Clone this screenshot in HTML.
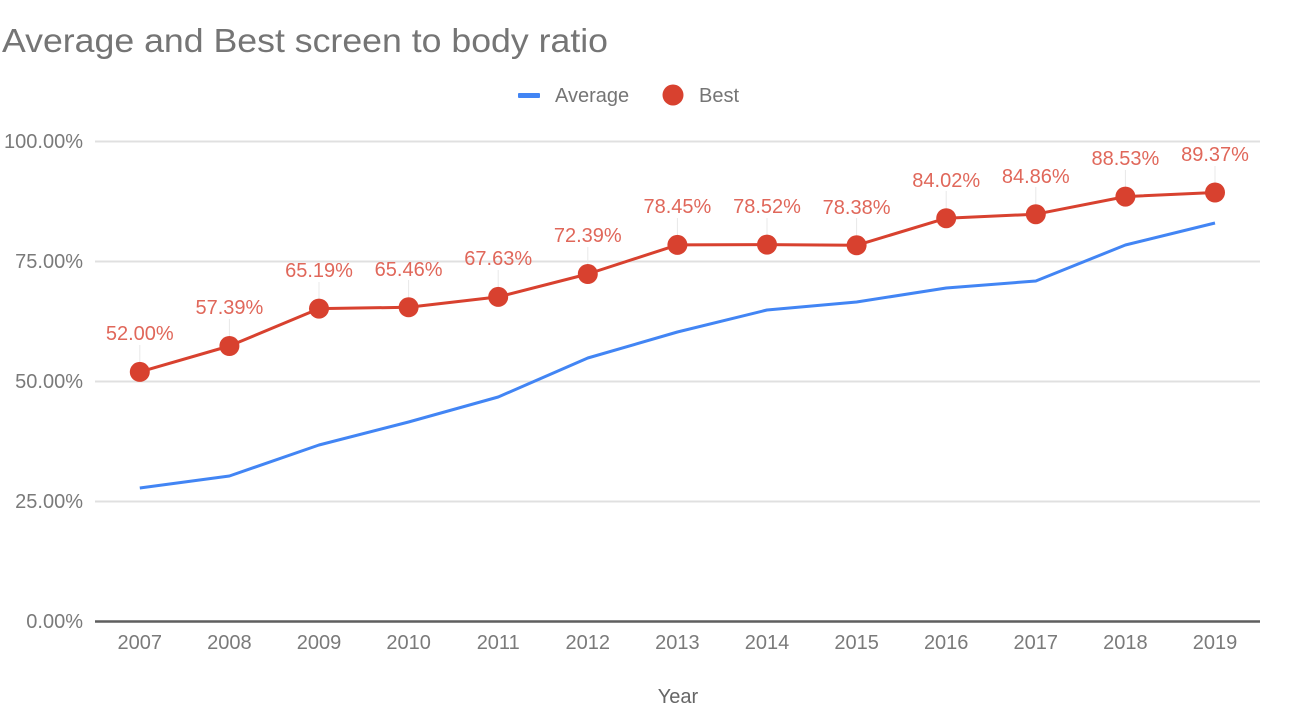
<!DOCTYPE html>
<html><head><meta charset="utf-8"><style>
html,body{margin:0;padding:0;background:#fff;}
svg{display:block;}
text{font-family:"Liberation Sans",Arial,sans-serif;}
</style></head><body>
<svg width="1290" height="728" viewBox="0 0 1290 728" xmlns="http://www.w3.org/2000/svg">
<rect width="1290" height="728" fill="#fff"/>
<text x="2" y="52" font-size="33" fill="#757575" textLength="606" lengthAdjust="spacingAndGlyphs">Average and Best screen to body ratio</text>
<!-- legend -->
<rect x="518" y="93" width="22" height="5" rx="1" fill="#4285f4"/>
<text x="555" y="102" font-size="20" fill="#757575">Average</text>
<circle cx="673" cy="95" r="10.5" fill="#d8412f"/>
<text x="699" y="102" font-size="20" fill="#757575">Best</text>
<!-- gridlines -->
<g stroke="#e0e0e0" stroke-width="2">
<line x1="95" y1="141.5" x2="1260" y2="141.5"/>
<line x1="95" y1="261.5" x2="1260" y2="261.5"/>
<line x1="95" y1="381.5" x2="1260" y2="381.5"/>
<line x1="95" y1="501.5" x2="1260" y2="501.5"/>
</g>
<line x1="95" y1="621.5" x2="1260" y2="621.5" stroke="#5f5f5f" stroke-width="2.5"/>
<!-- y labels -->
<g font-size="20" fill="#7a7a7a" text-anchor="end">
<text x="83" y="148">100.00%</text>
<text x="83" y="268">75.00%</text>
<text x="83" y="388">50.00%</text>
<text x="83" y="508">25.00%</text>
<text x="83" y="628">0.00%</text>
</g>
<!-- x labels -->
<g font-size="20" fill="#7a7a7a" text-anchor="middle">
<text x="139.8" y="649">2007</text>
<text x="229.4" y="649">2008</text>
<text x="319" y="649">2009</text>
<text x="408.6" y="649">2010</text>
<text x="498.2" y="649">2011</text>
<text x="587.8" y="649">2012</text>
<text x="677.4" y="649">2013</text>
<text x="767" y="649">2014</text>
<text x="856.6" y="649">2015</text>
<text x="946.2" y="649">2016</text>
<text x="1035.8" y="649">2017</text>
<text x="1125.4" y="649">2018</text>
<text x="1215" y="649">2019</text>
</g>
<text x="678" y="703" font-size="20" fill="#666" text-anchor="middle">Year</text>
<!-- average line -->
<polyline fill="none" stroke="#4285f4" stroke-width="3" stroke-linejoin="round" points="139.8,488 229.4,476 319,445 408.6,422 498.2,397 587.8,358 677.4,332 767,310 856.6,302 946.2,288 1035.8,281 1125.4,245 1215,223"/>
<!-- annotation stems -->
<g stroke="#e8e8e8" stroke-width="1">
<line x1="139.8" y1="345" x2="139.8" y2="362"/>
<line x1="229.4" y1="319" x2="229.4" y2="336"/>
<line x1="319" y1="282" x2="319" y2="299"/>
<line x1="408.6" y1="280" x2="408.6" y2="297"/>
<line x1="498.2" y1="270" x2="498.2" y2="287"/>
<line x1="587.8" y1="247" x2="587.8" y2="264"/>
<line x1="677.4" y1="218" x2="677.4" y2="235"/>
<line x1="767" y1="218" x2="767" y2="235"/>
<line x1="856.6" y1="218" x2="856.6" y2="235"/>
<line x1="946.2" y1="191" x2="946.2" y2="208"/>
<line x1="1035.8" y1="187" x2="1035.8" y2="204"/>
<line x1="1125.4" y1="170" x2="1125.4" y2="187"/>
<line x1="1215" y1="166" x2="1215" y2="183"/>
</g>
<!-- best line -->
<polyline fill="none" stroke="#d8412f" stroke-width="3" stroke-linejoin="round" points="139.8,371.9 229.4,346 319,308.6 408.6,307.3 498.2,296.9 587.8,274 677.4,244.9 767,244.6 856.6,245.3 946.2,218.2 1035.8,214.2 1125.4,196.6 1215,192.5"/>
<g fill="#d8412f">
<circle cx="139.8" cy="371.9" r="10"/>
<circle cx="229.4" cy="346" r="10"/>
<circle cx="319" cy="308.6" r="10"/>
<circle cx="408.6" cy="307.3" r="10"/>
<circle cx="498.2" cy="296.9" r="10"/>
<circle cx="587.8" cy="274" r="10"/>
<circle cx="677.4" cy="244.9" r="10"/>
<circle cx="767" cy="244.6" r="10"/>
<circle cx="856.6" cy="245.3" r="10"/>
<circle cx="946.2" cy="218.2" r="10"/>
<circle cx="1035.8" cy="214.2" r="10"/>
<circle cx="1125.4" cy="196.6" r="10"/>
<circle cx="1215" cy="192.5" r="10"/>
</g>
<!-- annotations -->
<g font-size="20" fill="#e0675a" text-anchor="middle">
<text x="139.8" y="340">52.00%</text>
<text x="229.4" y="314">57.39%</text>
<text x="319" y="277">65.19%</text>
<text x="408.6" y="276">65.46%</text>
<text x="498.2" y="265">67.63%</text>
<text x="587.8" y="242">72.39%</text>
<text x="677.4" y="213">78.45%</text>
<text x="767" y="213">78.52%</text>
<text x="856.6" y="214">78.38%</text>
<text x="946.2" y="187">84.02%</text>
<text x="1035.8" y="183">84.86%</text>
<text x="1125.4" y="165">88.53%</text>
<text x="1215" y="161">89.37%</text>
</g>
</svg>
</body></html>
